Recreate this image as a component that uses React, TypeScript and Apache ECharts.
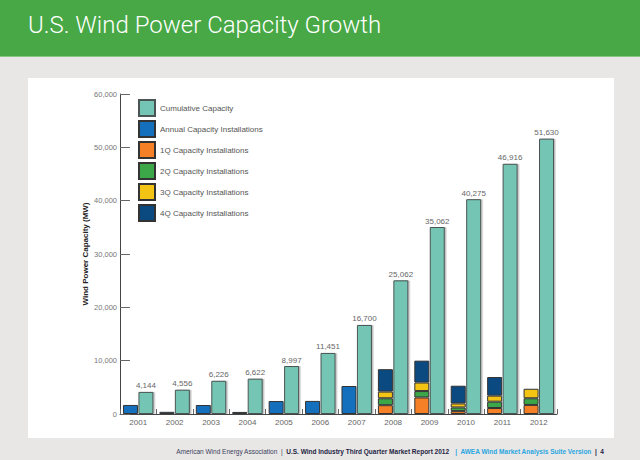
import { useEffect, useRef } from 'react';
import * as echarts from 'echarts';

const years = ['2001', '2002', '2003', '2004', '2005', '2006', '2007', '2008', '2009', '2010', '2011', '2012'];
const cumulative = [4144, 4556, 6226, 6622, 8997, 11451, 16700, 25062, 35062, 40275, 46916, 51630];
const annual = [1697, 410, 1687, 389, 2431, 2454, 5249, null, null, null, null, null];
const q1 = [null, null, null, null, null, null, null, 1650, 3100, 540, 1120, 1700];
const q2 = [null, null, null, null, null, null, null, 1300, 1200, 690, 1190, 1250];
const q3 = [null, null, null, null, null, null, null, 1250, 1600, 750, 1130, 1780];
const q4 = [null, null, null, null, null, null, null, 4200, 4100, 3320, 3490, null];
const legendNames = [
    'Cumulative Capacity',
    'Annual Capacity Installations',
    '1Q Capacity Installations',
    '2Q Capacity Installations',
    '3Q Capacity Installations',
    '4Q Capacity Installations'
];

const fmt = (v: number) => v.toLocaleString('en-US');

export default function App() {
    const chartRef = useRef<HTMLDivElement>(null);

    useEffect(() => {
        if (!chartRef.current) return;
        const chart = echarts.init(chartRef.current, null, { renderer: 'svg' });

        const stackBar = (name: string, data: (number | null)[], color: string) => ({
            name,
            type: 'bar',
            stack: 'annual',
            barWidth: 15,
            barGap: '3%',
            data,
            itemStyle: { color, borderColor: '#333', borderWidth: 1 }
        });

        const option = {
            animation: false,
            backgroundColor: '#e8e7e5',
            textStyle: { fontFamily: 'Liberation Sans, Arial, sans-serif' },
            graphic: [
                { type: 'rect', z: -10, shape: { x: 0, y: 0, width: 640, height: 56 }, style: { fill: '#47a845' } },
                { type: 'rect', z: -10, shape: { x: 0, y: 56, width: 640, height: 1 }, style: { fill: '#86c884' } },
                { type: 'rect', z: -10, shape: { x: 28, y: 78, width: 586, height: 360 }, style: { fill: '#ffffff' } },
                {
                    type: 'text',
                    x: 28,
                    y: 25,
                    style: {
                        text: 'U.S. Wind Power Capacity Growth',
                        fill: '#ffffff',
                        fontSize: 24,
                        fontWeight: 300,
                        fontFamily: 'Roboto, Liberation Sans, sans-serif',
                        verticalAlign: 'middle'
                    }
                },
                {
                    type: 'text',
                    x: 604,
                    y: 451,
                    style: {
                        text: '{a|American Wind Energy Association}{s|  |  }{b|U.S. Wind Industry Third Quarter Market Report 2012}{c|   |  AWEA Wind Market Analysis Suite Version}{b|  |  4}',
                        align: 'right',
                        verticalAlign: 'middle',
                        fontSize: 6.5,
                        fontFamily: 'Liberation Sans, Arial, sans-serif',
                        rich: {
                            a: { fontSize: 6.5, fill: '#3b3f5c' },
                            s: { fontSize: 6.5, fill: '#3b3f5c' },
                            b: { fontSize: 6.5, fill: '#1e2444', fontWeight: 'bold' },
                            c: { fontSize: 6.5, fill: '#2aa6e0', fontWeight: 'bold' }
                        }
                    }
                }
            ],
            legend: {
                data: legendNames,
                orient: 'vertical',
                left: 138,
                top: 99,
                padding: 0,
                itemWidth: 16,
                itemHeight: 16,
                itemGap: 3,
                icon: 'rect',
                textStyle: { fontSize: 8, color: '#555' }
            },
            grid: { left: 120, right: 83, top: 94, bottom: 46 },
            xAxis: {
                type: 'category',
                data: years,
                axisLine: { lineStyle: { color: '#444' } },
                axisTick: { show: true, inside: true, length: 5, lineStyle: { color: '#666' } },
                axisLabel: { fontSize: 8, color: '#666', margin: 4 }
            },
            yAxis: {
                type: 'value',
                min: 0,
                max: 60000,
                interval: 10000,
                name: 'Wind Power Capacity (MW)',
                nameLocation: 'middle',
                nameGap: 31,
                nameMoveOverlap: false,
                nameTextStyle: { fontSize: 8, fontWeight: 'bold', color: '#222' },
                axisLine: { show: true, lineStyle: { color: '#444' } },
                axisTick: { show: true, inside: true, length: 10, lineStyle: { color: '#666' } },
                axisLabel: { fontSize: 7.5, color: '#777', margin: 3, formatter: (v: number) => fmt(v) },
                splitLine: { show: false }
            },
            series: [
                stackBar('Annual Capacity Installations', annual, '#1470bd'),
                stackBar('1Q Capacity Installations', q1, '#f58025'),
                stackBar('2Q Capacity Installations', q2, '#3ca748'),
                stackBar('3Q Capacity Installations', q3, '#f4c414'),
                stackBar('4Q Capacity Installations', q4, '#0a4a80'),
                {
                    name: 'Cumulative Capacity',
                    type: 'bar',
                    barWidth: 15,
                    barGap: '3%',
                    data: cumulative,
                    itemStyle: {
                        color: '#74c5b5',
                        borderColor: '#4a5553',
                        borderWidth: 1,
                        shadowColor: 'rgba(0,0,0,0.25)',
                        shadowOffsetX: 1.5,
                        shadowBlur: 1
                    },
                    label: {
                        show: true,
                        position: 'top',
                        distance: 2,
                        fontSize: 8,
                        color: '#666',
                        formatter: (p: any) => fmt(p.value)
                    }
                }
            ]
        };
        chart.setOption(option);

        return () => chart.dispose();
    }, []);

    return (
        <div style={{ position: 'fixed', left: 0, top: 0, width: 640, height: 460 }}>
            <div ref={chartRef} style={{ width: '640px', height: '460px' }}></div>
        </div>
    );
}
